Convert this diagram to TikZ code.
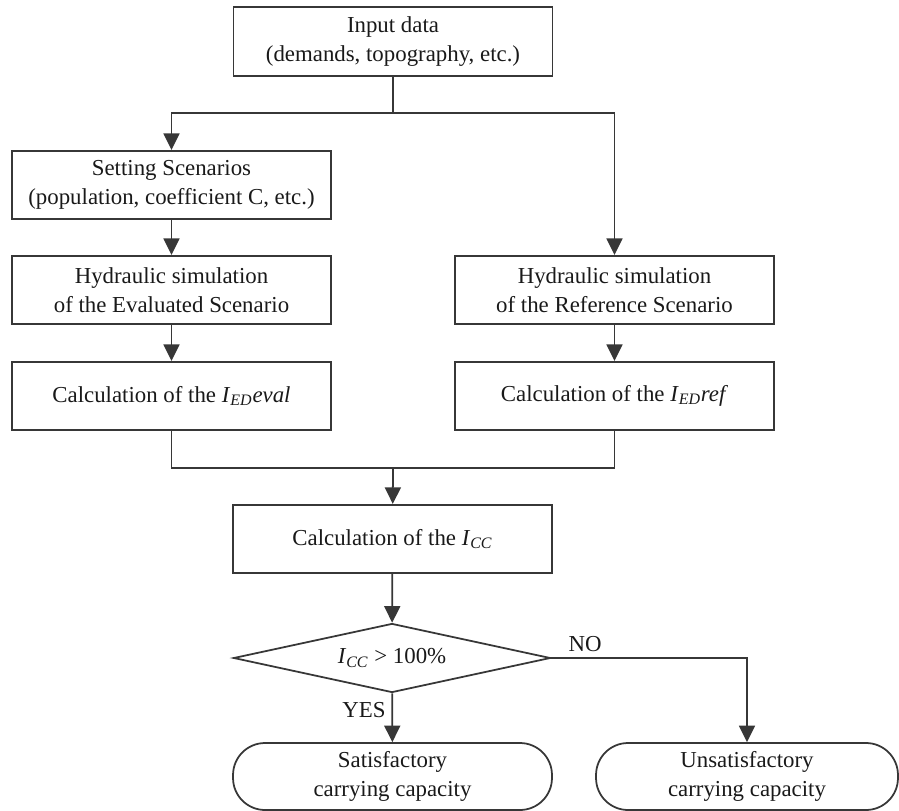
\documentclass[tikz,border=0pt]{standalone}
\usepackage{fontspec}
\setmainfont{Liberation Serif}
\usetikzlibrary{arrows.meta,shapes.geometric}
\definecolor{flowline}{RGB}{55,55,55}
\newcommand{\subidx}[2]{\textit{#1}\textsubscript{\textit{#2}}}

\begin{document}
\begin{tikzpicture}[
  x=0.02cm, y=-0.02cm,
  every node/.style={font=\fontsize{13}{16.5}\selectfont, text=black!90, align=center},
  process/.style={draw=flowline, line width=1pt, rectangle, minimum width=6.38cm, minimum height=1.37cm, inner sep=2pt},
  decision/.style={draw=flowline, line width=1pt, diamond, aspect=4.6, minimum width=6.34cm, minimum height=1.38cm, inner sep=0pt},
  terminal/.style={draw=flowline, line width=1pt, rectangle, rounded corners=0.64cm, minimum width=6.38cm, minimum height=1.34cm},
  flow/.style={draw=flowline, line width=1pt, -{Triangle[length=0.33cm,width=0.32cm]}},
  link/.style={draw=flowline, line width=1pt}
]
\useasboundingbox (0,0) rectangle (899,811);

% boxes
\node[process] (input) at (393,41.5) {Input data\\(demands, topography, etc.)};
\node[process] (setting) at (171.5,185) {Setting Scenarios\\(population, coefficient C, etc.)};
\node[process] (hydEval) at (171.5,290) {Hydraulic simulation\\of the Evaluated Scenario};
\node[process] (calcEval) at (171.5,396) {Calculation of the \subidx{I}{ED}\textit{eval}};
\node[process] (hydRef) at (614.5,290) {Hydraulic simulation\\of the Reference Scenario};
\node[process] (calcRef) at (614.5,396) {Calculation of the \subidx{I}{ED}\textit{ref}};
\node[process] (icc) at (392.5,539) {Calculation of the \subidx{I}{CC}};
\node[decision] (test) at (392,658) {\subidx{I}{CC} > 100\%};
\node[terminal] (sat) at (392.5,776.5) {Satisfactory\\carrying capacity};
\node[terminal, minimum width=6.04cm] (unsat) at (747,776.5) {Unsatisfactory\\carrying capacity};

\coordinate (split) at (393,113);
\coordinate (merge) at (393,468);

% connectors
\draw[link] (input.south) -- (split);
\draw[flow] (split) -| (setting.north);
\draw[flow] (split) -| (hydRef.north);
\draw[flow] (setting) -- (hydEval);
\draw[flow] (hydEval) -- (calcEval);
\draw[flow] (hydRef) -- (calcRef);
\draw[link] (calcEval.south) |- (merge);
\draw[link] (calcRef.south) |- (merge);
\draw[flow] (merge) -- (icc);
\draw[flow] (icc) -- (test);
\draw[flow] (test) -- node[pos=0.35, left] {YES} (sat);
\draw[flow] (test.east) -| node[pos=0, above right, xshift=6pt] {NO} (unsat.north);
\end{tikzpicture}
\end{document}
